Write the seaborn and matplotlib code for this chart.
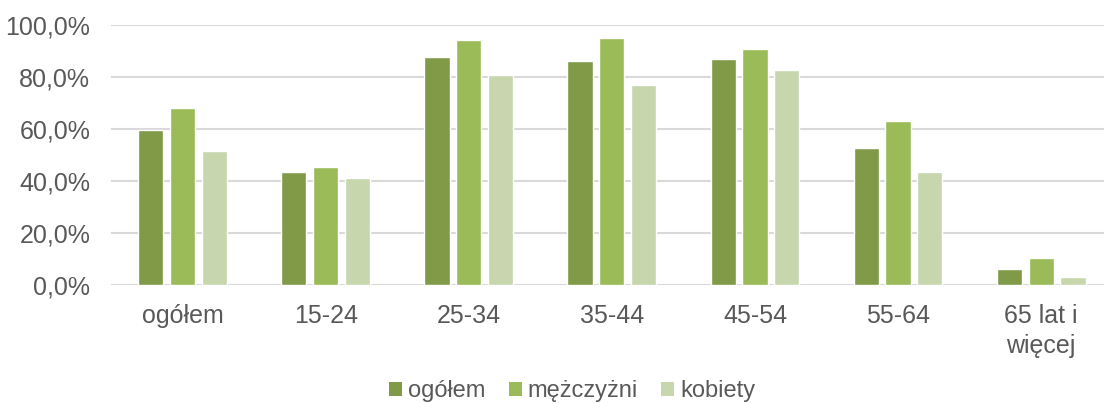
import matplotlib
matplotlib.use("Agg")
import matplotlib.pyplot as plt
from matplotlib.ticker import FuncFormatter
from matplotlib.patches import Patch
import seaborn as sns
import pandas as pd

# Employment rate by age group and sex (%)
categories = ["ogółem", "15-24", "25-34", "35-44", "45-54", "55-64", "65 lat i\nwięcej"]
ogolem = [59.5, 43.3, 87.8, 86.1, 87.0, 52.6, 6.3]
mezczyzni = [68.2, 45.2, 94.2, 95.1, 90.8, 63.2, 10.5]
kobiety = [51.5, 41.3, 80.7, 76.8, 82.8, 43.4, 3.2]

series_names = ["ogółem", "mężczyżni", "kobiety"]
colors = ["#809A48", "#9BBB59", "#C7D6AD"]

df = pd.DataFrame({
    "grupa": categories * 3,
    "seria": [series_names[0]] * 7 + [series_names[1]] * 7 + [series_names[2]] * 7,
    "wartosc": ogolem + mezczyzni + kobiety,
})

sns.set_theme(style="white")
plt.rcParams["font.family"] = ["Liberation Sans", "DejaVu Sans"]

W, H = 1104, 403
fig = plt.figure(figsize=(W / 100, H / 100), dpi=100)
left, right, bottom, top = 111, 1104, 285, 25
ax = fig.add_axes([left / W, (H - bottom) / H, (right - left) / W, (bottom - top) / H])

sns.barplot(data=df, x="grupa", y="wartosc", hue="seria", palette=colors,
            width=0.667, gap=0.21, ax=ax, legend=False, saturation=1)

ax.set_ylim(0, 100)
ax.set_xlim(-0.5, -0.5 + (right - left) / 143.1)
ax.set_yticks([0, 20, 40, 60, 80, 100])
ax.yaxis.set_major_formatter(FuncFormatter(lambda v, p: f"{v:.1f}%".replace(".", ",")))
ax.grid(axis="y", color="#D9D9D9", linewidth=1.5)
ax.set_axisbelow(True)
for s in ax.spines.values():
    s.set_visible(False)
ax.set_xlabel("")
ax.set_ylabel("")
ax.tick_params(axis="both", length=0, labelsize=18, colors="#595959")
ax.tick_params(axis="y", pad=15)
ax.tick_params(axis="x", pad=14)
for lbl in ax.get_xticklabels():
    lbl.set_linespacing(1.3)

handles = [Patch(facecolor=c, edgecolor="none") for c in colors]
fig.legend(handles, series_names, loc="center", bbox_to_anchor=(572 / W, (H - 391) / H),
           ncol=3, frameon=False, fontsize=17, handlelength=0.55, handleheight=0.55,
           handletextpad=0.25, columnspacing=1.0, labelcolor="#595959")

fig.savefig("out.png", dpi=100)
